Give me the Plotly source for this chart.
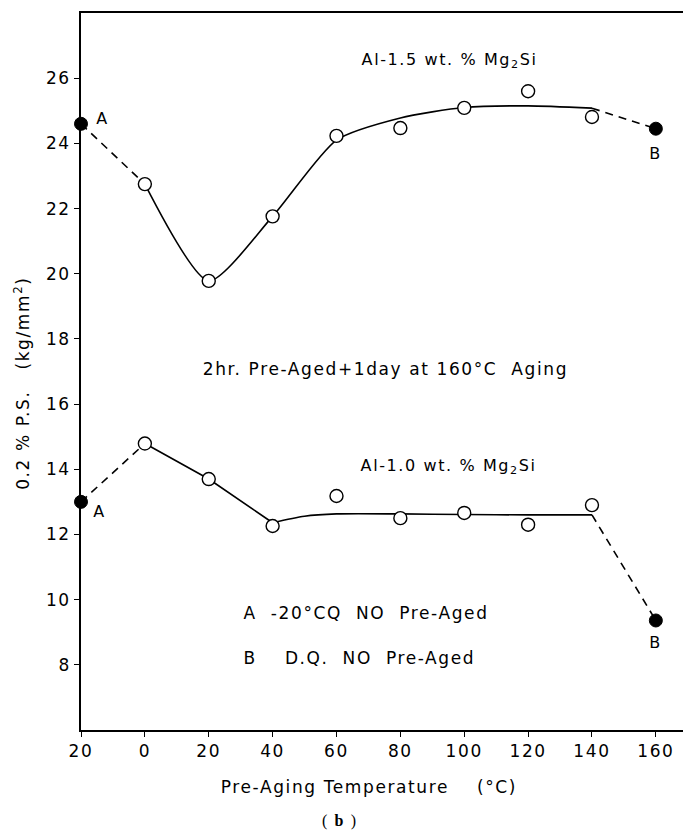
import plotly.graph_objects as go

# ---- data ----
temps = [0, 20, 40, 60, 80, 100, 120, 140]
al15_open = [22.75, 19.78, 21.76, 24.23, 24.47, 25.09, 25.6, 24.81]
al10_open = [14.79, 13.7, 12.26, 13.18, 12.5, 12.66, 12.3, 12.9]

ref_x = [-20, 160]            # A (-20°C CQ) and B (D.Q.)
al15_ref = [24.6, 24.45]
al10_ref = [13.0, 9.36]

# hand-drawn trend curves
al15_curve_x = [0, 20, 40, 60, 80, 100, 120, 140]
al15_curve_y = [22.75, 19.78, 21.76, 24.1, 24.78, 25.1, 25.15, 25.08]
al10_curve_x = [0, 20, 40, 50, 60, 80, 100, 120, 140]
al10_curve_y = [14.79, 13.7, 12.36, 12.56, 12.63, 12.63, 12.61, 12.6, 12.6]

xtick_vals = [-20, 0, 20, 40, 60, 80, 100, 120, 140, 160]
xtick_text = ["20", "0", "20", "40", "60", "80", "100", "120", "140", "160"]
ytick_vals = [8, 10, 12, 14, 16, 18, 20, 22, 24, 26]

FONT = "DejaVu Sans"
LW = 1.6
L, T, W, H = 81, 13, 602, 717
SPACING = 1.6   # css letter-spacing in px
PX_PER_UNIT = W / 188.5

fig = go.Figure()

# solid trend curves
fig.add_trace(go.Scatter(x=al15_curve_x, y=al15_curve_y, mode="lines",
                         line=dict(color="black", width=LW, shape="spline", smoothing=0.65),
                         cliponaxis=False, showlegend=False))
fig.add_trace(go.Scatter(x=al10_curve_x[:3], y=al10_curve_y[:3], mode="lines",
                         line=dict(color="black", width=LW),
                         cliponaxis=False, showlegend=False))
fig.add_trace(go.Scatter(x=al10_curve_x[2:], y=al10_curve_y[2:], mode="lines",
                         line=dict(color="black", width=LW, shape="spline", smoothing=0.8),
                         cliponaxis=False, showlegend=False))

# dashed connections to reference points
for xs, ys in [
    ([ref_x[0], al15_curve_x[0]], [al15_ref[0], al15_curve_y[0]]),
    ([al15_curve_x[-1], ref_x[1]], [al15_curve_y[-1], al15_ref[1]]),
    ([ref_x[0], al10_curve_x[0]], [al10_ref[0], al10_curve_y[0]]),
    ([al10_curve_x[-1], ref_x[1]], [al10_curve_y[-1], al10_ref[1]]),
]:
    fig.add_trace(go.Scatter(x=xs, y=ys, mode="lines",
                             line=dict(color="black", width=LW, dash="8px,6px"),
                             cliponaxis=False, showlegend=False))

# open circles
for ys in (al15_open, al10_open):
    fig.add_trace(go.Scatter(x=temps, y=ys, mode="markers",
                             marker=dict(symbol="circle", size=13, color="white",
                                         line=dict(color="black", width=1.4)),
                             cliponaxis=False, showlegend=False))
# filled reference circles
for ys in (al15_ref, al10_ref):
    fig.add_trace(go.Scatter(x=ref_x, y=ys, mode="markers",
                             marker=dict(symbol="circle", size=13, color="black",
                                         line=dict(color="black", width=1)),
                             cliponaxis=False, showlegend=False))


def left_shift(text):
    # letter-spacing grows text about its centre; compensate left anchoring
    return len(text) * SPACING / 2 / PX_PER_UNIT


legend_a = "A  -20°CQ  NO  Pre-Aged"
legend_b = "B    D.Q.  NO  Pre-Aged"
annos = [
    dict(x=-15.6, y=24.75, text="A", xanchor="left", size=16),
    dict(x=160, y=23.7, text="B", xanchor="center", size=16),
    dict(x=-16.5, y=12.69, text="A", xanchor="left", size=16),
    dict(x=160, y=8.67, text="B", xanchor="center", size=16),
    dict(x=95.5, y=26.55, text="Al-1.5 wt. % Mg<sub>2</sub>Si", xanchor="center", size=16),
    dict(x=95, y=14.1, text="Al-1.0 wt. % Mg<sub>2</sub>Si", xanchor="center", size=16),
    dict(x=75.5, y=17.07, text="2hr. Pre-Aged+1day at 160°C  Aging", xanchor="center", size=17),
    dict(x=30.4 + left_shift(legend_a), y=9.59, text=legend_a, xanchor="left", size=17),
    dict(x=30.4 + left_shift(legend_b), y=8.2, text=legend_b, xanchor="left", size=17),
]
for a in annos:
    fig.add_annotation(x=a["x"], y=a["y"], text=a["text"], xanchor=a["xanchor"],
                       yanchor="middle", showarrow=False,
                       font=dict(family=FONT, size=a["size"], color="black"))

# axis titles and panel label as paper annotations
fig.add_annotation(xref="paper", yref="paper", x=(369 - L) / W, y=-(787 - T - H) / H,
                   text="Pre-Aging Temperature    (°C)", showarrow=False,
                   xanchor="center", yanchor="middle",
                   font=dict(family=FONT, size=17, color="black"))
fig.add_annotation(xref="paper", yref="paper", x=-(L - 22) / W, y=(T + H - 383) / H,
                   text="0.2 % P.S.   (kg/mm<sup>2</sup>)", showarrow=False, textangle=-90,
                   xanchor="center", yanchor="middle",
                   font=dict(family=FONT, size=17, color="black"))
fig.add_annotation(xref="paper", yref="paper", x=(340 - L) / W, y=-(821 - T - H) / H,
                   text="( <b>b</b> )", showarrow=False, xanchor="center", yanchor="middle",
                   font=dict(family="Liberation Serif", size=16, color="black"))

fig.update_layout(
    width=683, height=833,
    margin=dict(l=L, r=0, t=T, b=833 - T - H),
    paper_bgcolor="white", plot_bgcolor="white",
    font=dict(family=FONT, size=16, color="black"),
    xaxis=dict(range=[-20, 168.5], tickvals=xtick_vals, ticktext=xtick_text,
               showline=True, linecolor="black", linewidth=LW, mirror=True,
               ticks="outside", ticklen=5, tickcolor="black", showgrid=False,
               zeroline=False, tickfont=dict(family=FONT, size=17)),
    yaxis=dict(range=[6, 28], tickvals=ytick_vals,
               showline=True, linecolor="black", linewidth=LW,
               ticks="outside", ticklen=5, tickcolor="black", showgrid=False,
               zeroline=False, tickfont=dict(family=FONT, size=17)),
)

post = """
var gd = document.getElementsByClassName('plotly-graph-div')[0];
gd.querySelectorAll('text').forEach(function(t){ t.style.letterSpacing = '%spx'; });
""" % SPACING

fig.write_html("out.html", post_script=post)
